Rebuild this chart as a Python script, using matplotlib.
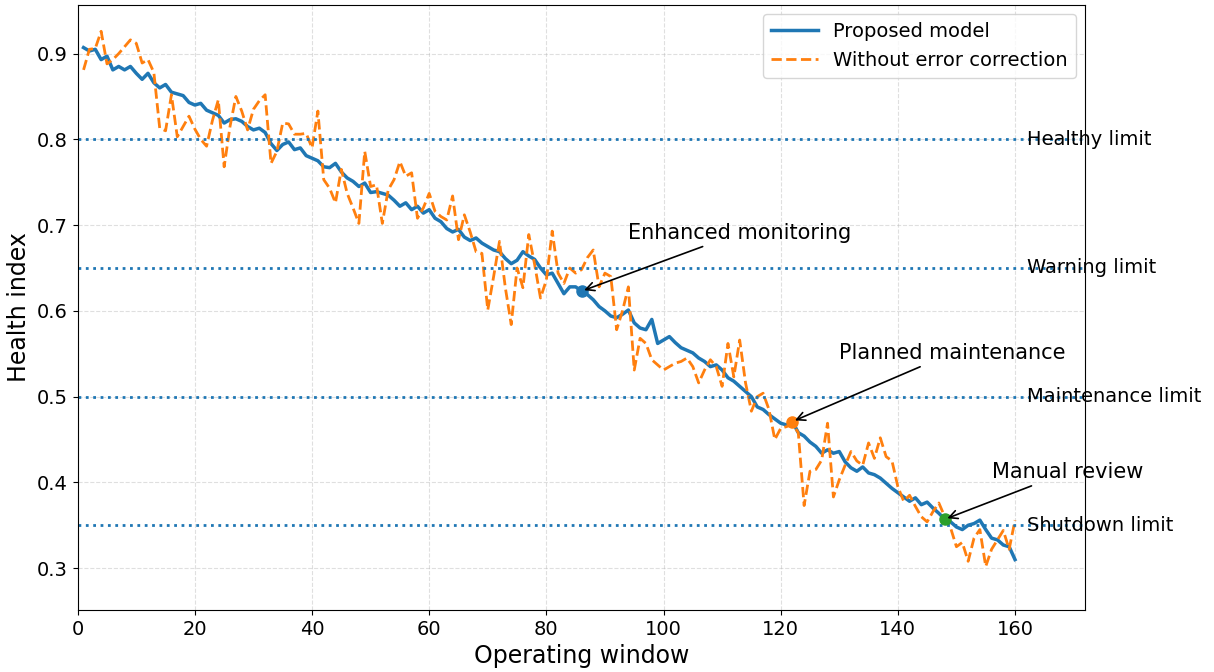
import numpy as np
import matplotlib
matplotlib.use("Agg")
import matplotlib.pyplot as plt

# operating windows 1..160
windows = list(range(1, 161))

proposed = [
    0.907, 0.903, 0.905, 0.893, 0.897, 0.881, 0.885, 0.881, 0.885, 0.877,
    0.870, 0.877, 0.866, 0.860, 0.864, 0.855, 0.853, 0.851, 0.843, 0.840,
    0.842, 0.834, 0.831, 0.828, 0.819, 0.823, 0.824, 0.821, 0.815, 0.811,
    0.813, 0.808, 0.795, 0.787, 0.794, 0.797, 0.788, 0.790, 0.781, 0.778,
    0.775, 0.768, 0.767, 0.772, 0.762, 0.755, 0.751, 0.745, 0.749, 0.738,
    0.739, 0.737, 0.735, 0.729, 0.722, 0.726, 0.718, 0.722, 0.714, 0.718,
    0.708, 0.704, 0.696, 0.692, 0.695, 0.686, 0.682, 0.685, 0.679, 0.675,
    0.671, 0.669, 0.661, 0.655, 0.659, 0.669, 0.664, 0.660, 0.650, 0.642,
    0.644, 0.632, 0.620, 0.628, 0.628, 0.623, 0.619, 0.613, 0.605, 0.600,
    0.594, 0.592, 0.596, 0.601, 0.586, 0.580, 0.578, 0.590, 0.562, 0.566,
    0.570, 0.563, 0.557, 0.554, 0.551, 0.545, 0.541, 0.535, 0.537, 0.531,
    0.522, 0.518, 0.512, 0.506, 0.500, 0.488, 0.485, 0.479, 0.474, 0.469,
    0.467, 0.471, 0.458, 0.454, 0.447, 0.442, 0.434, 0.438, 0.434, 0.436,
    0.424, 0.417, 0.413, 0.418, 0.411, 0.409, 0.405, 0.399, 0.393, 0.388,
    0.383, 0.378, 0.382, 0.374, 0.377, 0.370, 0.364, 0.357, 0.354, 0.348,
    0.345, 0.350, 0.352, 0.356, 0.345, 0.335, 0.333, 0.327, 0.325, 0.310,
]

no_correction = [
    0.881, 0.905, 0.906, 0.926, 0.888, 0.893, 0.900, 0.908, 0.916, 0.912,
    0.889, 0.893, 0.878, 0.813, 0.810, 0.852, 0.803, 0.815, 0.827, 0.812,
    0.800, 0.792, 0.822, 0.846, 0.768, 0.815, 0.850, 0.833, 0.811, 0.835,
    0.845, 0.852, 0.772, 0.786, 0.819, 0.818, 0.806, 0.806, 0.807, 0.790,
    0.833, 0.753, 0.743, 0.726, 0.765, 0.737, 0.720, 0.702, 0.786, 0.745,
    0.747, 0.702, 0.741, 0.753, 0.774, 0.757, 0.761, 0.708, 0.720, 0.737,
    0.716, 0.710, 0.706, 0.734, 0.683, 0.712, 0.692, 0.669, 0.667, 0.601,
    0.640, 0.681, 0.627, 0.584, 0.650, 0.627, 0.689, 0.654, 0.615, 0.636,
    0.693, 0.644, 0.632, 0.650, 0.644, 0.648, 0.662, 0.671, 0.628, 0.644,
    0.640, 0.578, 0.600, 0.628, 0.531, 0.568, 0.562, 0.543, 0.537, 0.531,
    0.535, 0.539, 0.541, 0.545, 0.535, 0.516, 0.531, 0.543, 0.535, 0.512,
    0.562, 0.523, 0.566, 0.516, 0.483, 0.500, 0.504, 0.485, 0.450, 0.463,
    0.465, 0.468, 0.458, 0.373, 0.413, 0.415, 0.426, 0.469, 0.383, 0.403,
    0.420, 0.436, 0.425, 0.420, 0.446, 0.428, 0.452, 0.430, 0.425, 0.395,
    0.378, 0.385, 0.372, 0.360, 0.354, 0.366, 0.376, 0.360, 0.347, 0.325,
    0.330, 0.308, 0.335, 0.345, 0.302, 0.322, 0.333, 0.344, 0.322, 0.356,
]

limit_names = ["Healthy limit", "Warning limit", "Maintenance limit", "Shutdown limit"]
limit_values = [0.80, 0.65, 0.50, 0.35]

event_names = ["Enhanced monitoring", "Planned maintenance", "Manual review"]
event_windows = [86, 122, 148]
event_colors = ["C0", "C1", "C2"]
event_dy = [0.068, 0.080, 0.055]

fig, ax = plt.subplots(figsize=(12.14, 6.72), dpi=100)
fig.subplots_adjust(left=0.064, right=0.894, top=0.993, bottom=0.092)

ax.plot(windows, proposed, color="C0", lw=2.5, label="Proposed model")
ax.plot(windows, no_correction, color="C1", lw=2, ls="--",
        label="Without error correction")

for name, val in zip(limit_names, limit_values):
    ax.axhline(val, color="C0", ls=":", lw=2)
    ax.text(162, val, name, fontsize=14, va="center", ha="left")

for name, w, c, dy in zip(event_names, event_windows, event_colors, event_dy):
    y = proposed[windows.index(w)]
    ax.plot(w, y, "o", color=c, ms=8)
    ax.annotate(name, xy=(w, y), xytext=(w + 8, y + dy), fontsize=15,
                ha="left", va="center",
                arrowprops=dict(arrowstyle="->", color="black", lw=1.2))

ax.set_xlim(0, 172)
ax.set_ylim(0.251, 0.957)
ax.set_xlabel("Operating window", fontsize=17)
ax.set_ylabel("Health index", fontsize=17)
ax.tick_params(labelsize=14)
ax.grid(True, ls="--", alpha=0.4)
ax.legend(loc="upper right", fontsize=14, handlelength=2.4)

plt.savefig("out.png", dpi=100)
plt.close()
